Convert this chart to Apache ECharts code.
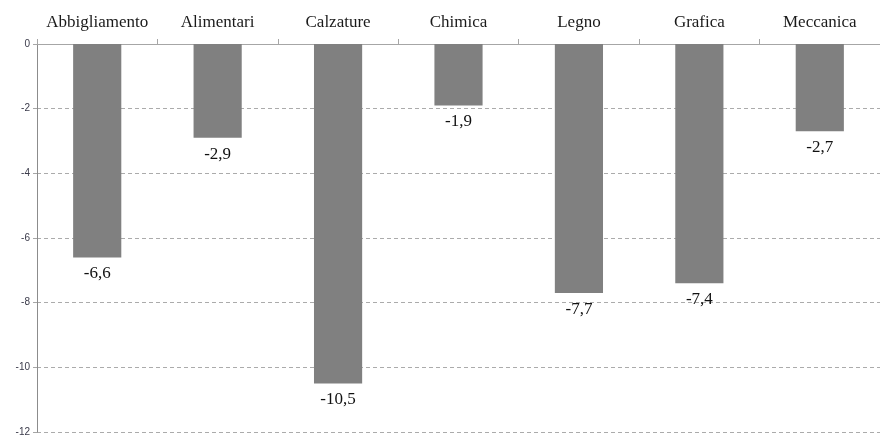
<!DOCTYPE html>
<html>
<head>
<meta charset="utf-8">
<script src="https://cdn.jsdelivr.net/npm/echarts@6/dist/echarts.min.js"></script>
<style>
  html, body { margin: 0; padding: 0; background: #fff; }
  #chart { width: 880px; height: 437px; }
</style>
</head>
<body>
<div id="chart"></div>
<script>
// Sectors and their percentage change
const categories = ['Abbigliamento', 'Alimentari', 'Calzature', 'Chimica', 'Legno', 'Grafica', 'Meccanica'];
const values = [-6.6, -2.9, -10.5, -1.9, -7.7, -7.4, -2.7];
const yTicks = { min: -12, max: 0, interval: 2 };

const serif = '"Liberation Serif", "DejaVu Serif", serif';
const chart = echarts.init(document.getElementById('chart'));

chart.setOption({
  animation: false,
  backgroundColor: '#ffffff',
  grid: { left: 37, top: 44, width: 854, height: 388, containLabel: false },
  xAxis: {
    type: 'category',
    position: 'top',
    data: categories,
    axisLine: { show: true, lineStyle: { color: '#a6a6a6', width: 1 } },
    axisTick: { show: true, interval: 0, alignWithLabel: false, length: 5, lineStyle: { color: '#a6a6a6' } },
    axisLabel: { interval: 0, hideOverlap: false, fontFamily: serif, fontSize: 17, color: '#1a1a1a', margin: 13 },
    splitLine: { show: false }
  },
  yAxis: {
    type: 'value',
    min: yTicks.min,
    max: yTicks.max,
    interval: yTicks.interval,
    axisLine: { show: true, lineStyle: { color: '#8c8c8c', width: 1 } },
    axisTick: { show: true, length: 4, lineStyle: { color: '#a6a6a6' } },
    axisLabel: { fontFamily: '"Liberation Sans", Arial, sans-serif', fontSize: 10, color: '#3a3a4a', margin: 7 },
    splitLine: { show: true, lineStyle: { color: '#ababab', type: [4, 3], width: 1 } }
  },
  series: [{
    type: 'bar',
    data: values,
    barWidth: '40%',
    itemStyle: { color: '#808080' },
    label: {
      show: true,
      position: 'bottom',
      distance: 8,
      fontFamily: serif,
      fontSize: 17,
      color: '#111',
      formatter: p => String(p.value).replace('.', ',')
    }
  }]
});
</script>
</body>
</html>
